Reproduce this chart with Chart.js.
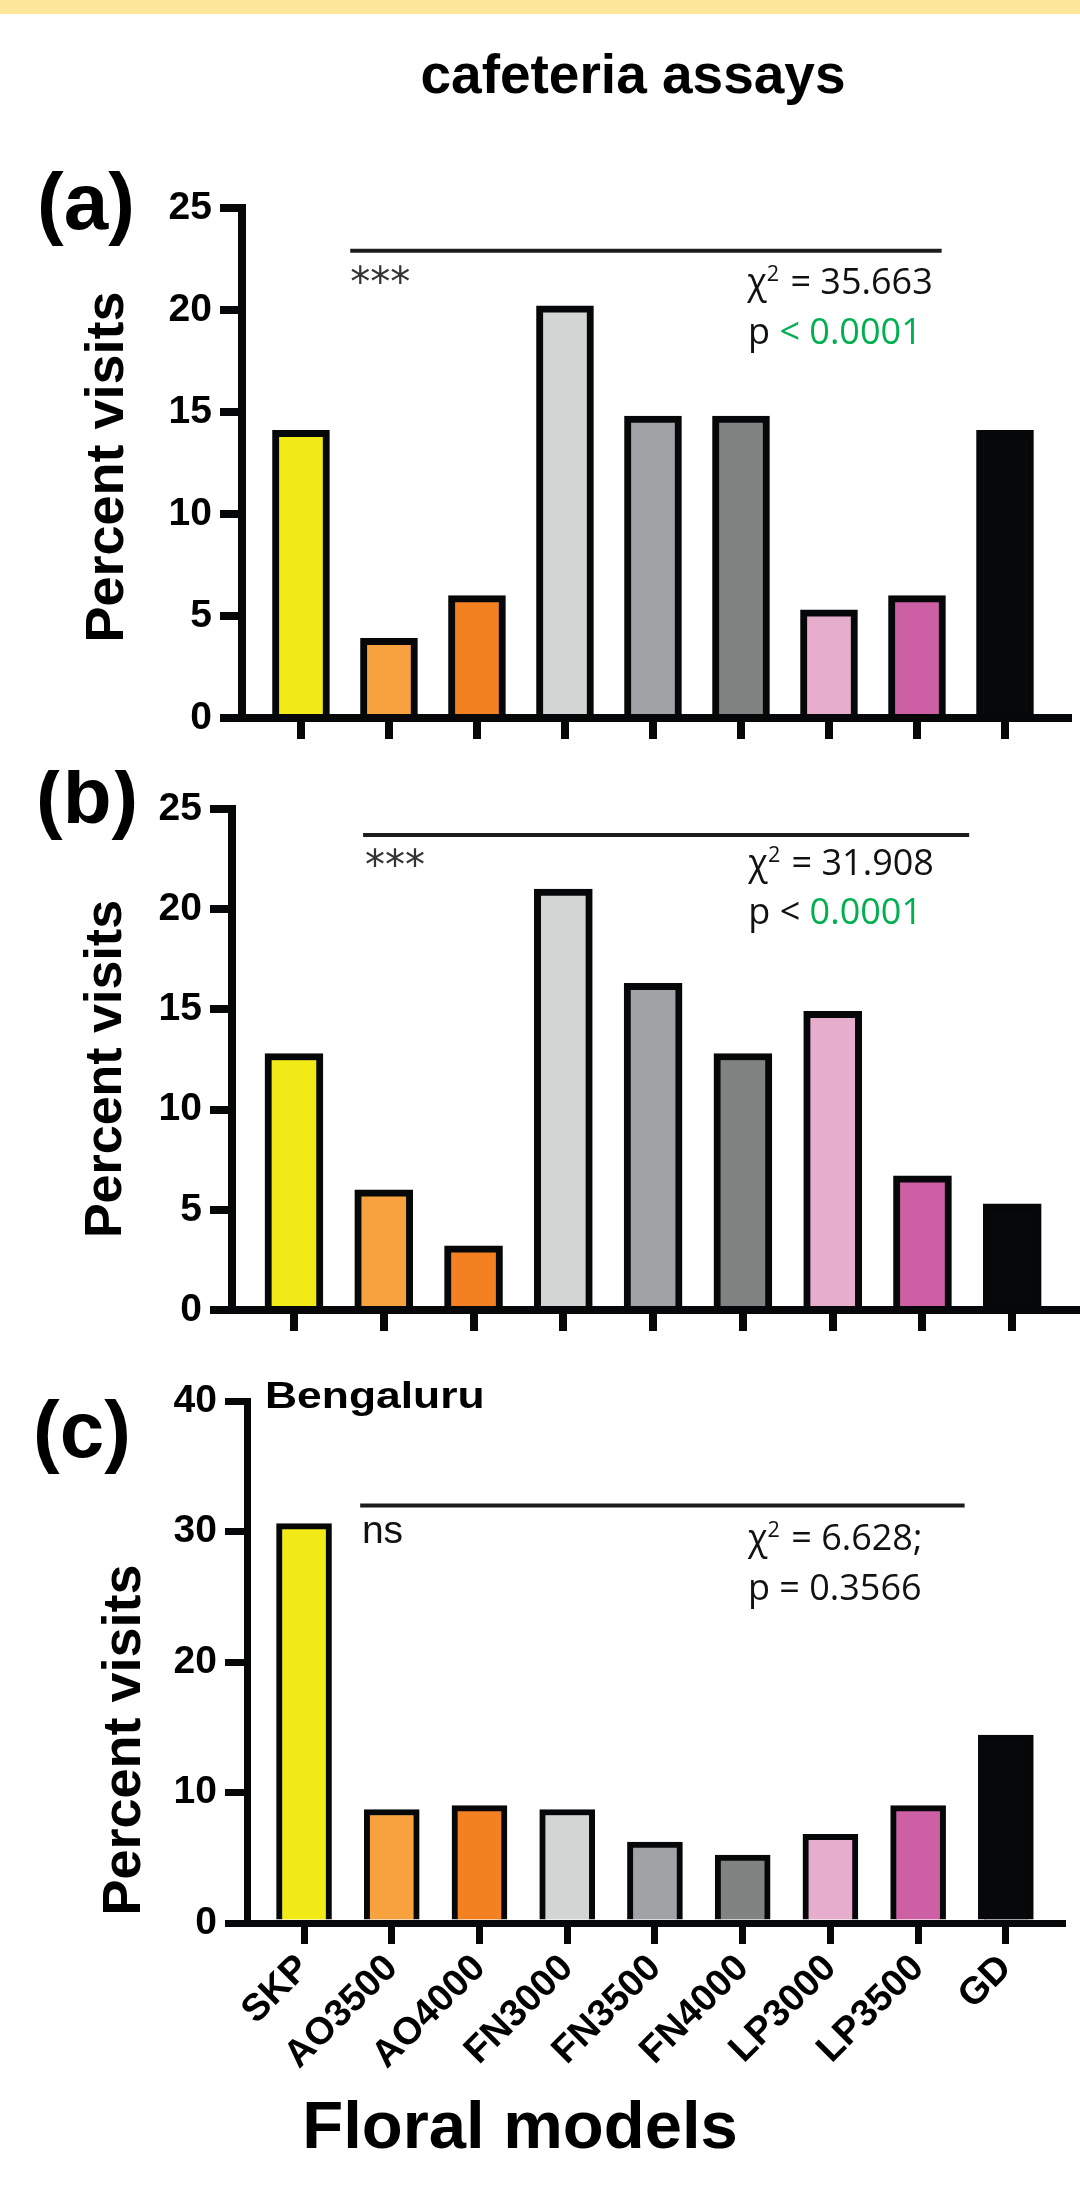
<!DOCTYPE html>
<html lang="en">
<head>
<meta charset="UTF-8">
<title>cafeteria assays</title>
<style>
  body { margin: 0; background: #fff; }
  .page { position: relative; width: 1080px; height: 2189px; overflow: hidden; background: #fff; }
  .band { position: absolute; left: 0; top: 0; width: 1080px; height: 14px; background: #fee79b; }
  .panel { position: absolute; left: 0; width: 1080px; }
</style>
<script src="https://cdn.jsdelivr.net/npm/chart.js@4"></script>
</head>
<body>
<div class="page">
  <div class="band"></div>
  <div class="panel" style="top:0;height:770px"><canvas id="chartA"></canvas></div>
  <div class="panel" style="top:770px;height:590px"><canvas id="chartB"></canvas></div>
  <div class="panel" style="top:1360px;height:829px"><canvas id="chartC"></canvas></div>
</div>

<script>
// floral models (x categories)
const models = ['SKP', 'AO3500', 'AO4000', 'FN3000', 'FN3500', 'FN4000', 'LP3000', 'LP3500', 'GD'];
// percent visits
const visitsA = [14.1, 3.9, 6.0, 20.2, 14.8, 14.8, 5.3, 6.0, 14.1];
const visitsB = [12.8, 6.0, 3.2, 21.0, 16.3, 12.8, 14.9, 6.7, 5.3];
const visitsC = [30.6, 8.7, 9.0, 8.7, 6.2, 5.2, 6.8, 9.0, 14.4];
const barColors = ['#f2ea17', '#f8a13f', '#f38121', '#d3d5d4', '#a0a2a5', '#818382', '#e6adcd', '#cd5fa5', '#060809'];
const ink = '#050708';
const green = '#00b050';

const SANS = '"Liberation Sans", Arial, sans-serif';
const CAL = '"Open Sans", sans-serif';
Chart.defaults.font.family = SANS;

// draws the stats lines / texts (data coords) and the panel texts (canvas px)
const decor = {
  id: 'decor',
  afterDraw(chart, args, opts) {
    const ctx = chart.ctx;
    const xs = chart.scales.x, ys = chart.scales.y;
    ctx.save();
    (opts.lines || []).forEach(l => {
      ctx.strokeStyle = '#1c1c1c';
      ctx.lineWidth = 4;
      ctx.beginPath();
      ctx.moveTo(xs.getPixelForValue(l.x0), ys.getPixelForValue(l.y));
      ctx.lineTo(xs.getPixelForValue(l.x1), ys.getPixelForValue(l.y));
      ctx.stroke();
    });
    ctx.textAlign = 'left';
    ctx.textBaseline = 'alphabetic';
    (opts.notes || []).forEach(n => {
      let x = xs.getPixelForValue(n.x);
      const y = ys.getPixelForValue(n.y);
      n.parts.forEach(p => {
        const size = p.sup ? n.size * 0.6 : n.size;
        ctx.font = `${size}px ${n.family || CAL}`;
        ctx.fillStyle = p.color || n.color || '#111';
        ctx.fillText(p.t, x, p.sup ? y - n.size * 0.36 : y);
        x += ctx.measureText(p.t).width + (p.sup ? 2 : 0);
      });
    });
    (opts.texts || []).forEach(t => {
      ctx.save();
      ctx.translate(t.x, t.y);
      if (t.rot) ctx.rotate(t.rot);
      if (t.sx) ctx.scale(t.sx, 1);
      ctx.font = `bold ${t.size}px ${SANS}`;
      ctx.fillStyle = '#000';
      ctx.textAlign = t.align || 'left';
      ctx.fillText(t.text, 0, 0);
      ctx.restore();
    });
    ctx.restore();
  }
};

function makePanel(id, values, cfg) {
  return new Chart(document.getElementById(id), {
    type: 'bar',
    data: {
      datasets: [{
        data: values.map((v, i) => ({ x: i, y: v })),
        backgroundColor: barColors,
        borderColor: ink,
        borderWidth: cfg.barBorder,
        barThickness: cfg.barW
      }]
    },
    options: {
      responsive: true,
      maintainAspectRatio: false,
      animation: false,
      layout: { padding: { left: 0, top: cfg.top, right: cfg.right, bottom: 0 } },
      scales: {
        x: {
          type: 'linear',
          min: cfg.xmin,
          max: cfg.xmax,
          offset: false,
          afterBuildTicks: s => { s.ticks = models.map((m, i) => ({ value: i })); },
          afterFit: s => { s.height = cfg.xh; },
          grid: { offset: false, drawOnChartArea: false, color: ink, lineWidth: cfg.axisW, tickLength: 21 },
          border: { color: ink, width: cfg.axisW },
          ticks: {
            display: cfg.showNames,
            autoSkip: false,
            minRotation: 45,
            maxRotation: 45,
            padding: 2,
            color: '#000',
            font: { size: 38, weight: 'bold' },
            callback: v => models[v]
          }
        },
        y: {
          min: 0,
          max: cfg.ymax,
          afterFit: s => { s.width = cfg.axisX; },
          grid: { drawOnChartArea: false, color: ink, lineWidth: cfg.axisW, tickLength: 22 },
          border: { color: ink, width: cfg.axisW },
          ticks: { stepSize: cfg.step, padding: 8, color: '#000', font: { size: 39, weight: 'bold' } }
        }
      },
      plugins: {
        legend: { display: false },
        tooltip: { enabled: false },
        decor: cfg.decor
      }
    },
    plugins: [decor]
  });
}

makePanel('chartA', visitsA, {
  top: 208, right: 12, xh: 52, axisX: 242, axisW: 8, barW: 57, barBorder: 7,
  xmin: -0.67, xmax: 8.716, ymax: 25, step: 5, showNames: false,
  decor: {
    lines: [{ x0: 0.56, x1: 7.28, y: 22.9 }],
    notes: [
      { x: 0.56, y: 20.68, size: 40, family: '"DejaVu Sans", sans-serif', color: '#333', parts: [{ t: '***' }] },
      { x: 5.07, y: 20.78, size: 36, parts: [{ t: 'χ' }, { t: '2', sup: true }, { t: ' = 35.663' }] },
      { x: 5.08, y: 18.33, size: 36, parts: [{ t: 'p ' }, { t: '< 0.0001', color: green }] }
    ],
    texts: [
      { text: 'cafeteria assays', x: 633, y: 93, size: 55, align: 'center' },
      { text: '(a)', x: 37, y: 229, size: 80 },
      { text: 'Percent visits', x: 123, y: 467, size: 54, align: 'center', rot: -Math.PI / 2 }
    ]
  }
});

makePanel('chartB', visitsB, {
  top: 39, right: 4, xh: 50, axisX: 232, axisW: 8, barW: 58, barBorder: 7,
  xmin: -0.69, xmax: 8.71, ymax: 25, step: 5, showNames: false,
  decor: {
    lines: [{ x0: 0.77, x1: 7.52, y: 23.7 }],
    notes: [
      { x: 0.79, y: 21.5, size: 40, family: '"DejaVu Sans", sans-serif', color: '#333', parts: [{ t: '***' }] },
      { x: 5.06, y: 21.7, size: 36, parts: [{ t: 'χ' }, { t: '2', sup: true }, { t: ' = 31.908' }] },
      { x: 5.06, y: 19.26, size: 36, parts: [{ t: 'p < ' }, { t: '0.0001', color: green }] }
    ],
    texts: [
      { text: '(b)', x: 36, y: 53, size: 80 },
      { text: 'Percent visits', x: 121, y: 299, size: 52, align: 'center', rot: -Math.PI / 2 }
    ]
  }
});

makePanel('chartC', visitsC, {
  top: 41, right: 18, xh: 266, axisX: 247, axisW: 7, barW: 55, barBorder: 6,
  xmin: -0.65, xmax: 8.64, ymax: 40, step: 10, showNames: true,
  decor: {
    lines: [{ x0: 0.64, x1: 7.53, y: 32.0 }],
    notes: [
      { x: 0.66, y: 29.1, size: 39, family: SANS, parts: [{ t: 'ns' }] },
      { x: 5.06, y: 28.6, size: 36, parts: [{ t: 'χ' }, { t: '2', sup: true }, { t: ' = 6.628;' }] },
      { x: 5.06, y: 24.75, size: 36, parts: [{ t: 'p = 0.3566' }] }
    ],
    texts: [
      { text: '(c)', x: 33, y: 97, size: 80 },
      { text: 'Bengaluru', x: 265, y: 48, size: 37, sx: 1.2 },
      { text: 'Percent visits', x: 140, y: 380, size: 54, align: 'center', rot: -Math.PI / 2 },
      { text: 'Floral models', x: 520, y: 788, size: 67, align: 'center' }
    ]
  }
});
</script>
</body>
</html>
